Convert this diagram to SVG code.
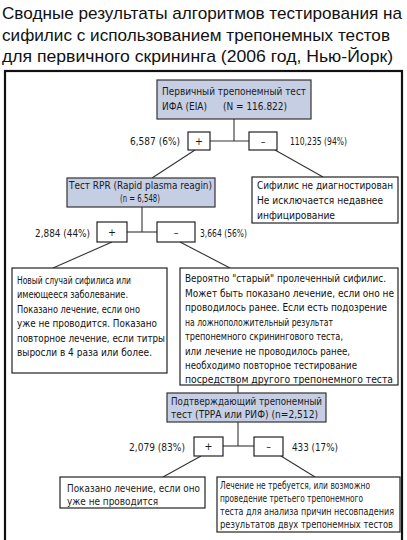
<svg xmlns="http://www.w3.org/2000/svg" width="407" height="540" viewBox="0 0 407 540">
<style>
.title{font-family:'Liberation Sans',Arial,sans-serif;font-size:17px;fill:#111}
.nt{font-family:'Liberation Sans Narrow','DejaVu Sans Condensed','Liberation Sans',sans-serif;font-size:10.5px;fill:#1a1a1a}
.bt{font-family:'DejaVu Sans Condensed','Liberation Sans Narrow','Liberation Sans',sans-serif;font-size:10.5px;fill:#111}
.box{fill:#fff;stroke:#222;stroke-width:1.2}
.blue{fill:#c6cee4;stroke:#333;stroke-width:1.2}
.ln{stroke:#333;stroke-width:1.1;fill:none}
.frame{fill:none;stroke:#111;stroke-width:2.2}
</style>
<rect width="407" height="540" fill="#fff"/>
<g id="title">
<text class="title" x="2" y="19" textLength="400" lengthAdjust="spacingAndGlyphs">Сводные результаты алгоритмов тестирования на</text>
<text class="title" x="2" y="41" textLength="388" lengthAdjust="spacingAndGlyphs">сифилис с использованием трепонемных тестов</text>
<text class="title" x="2" y="62" textLength="391" lengthAdjust="spacingAndGlyphs">для первичного скрининга (2006 год, Нью-Йорк)</text>
</g>
<rect class="frame" x="5" y="71" width="397" height="480"/>
<g id="connectors">
<line class="ln" x1="234" y1="119" x2="234" y2="141"/>
<line class="ln" x1="210" y1="141" x2="249" y2="141"/>
<line class="ln" x1="195" y1="150" x2="152" y2="178"/>
<line class="ln" x1="275" y1="150" x2="323" y2="177"/>
<line class="ln" x1="142" y1="207" x2="142" y2="232"/>
<line class="ln" x1="127" y1="232" x2="157" y2="232"/>
<line class="ln" x1="112" y1="242" x2="53" y2="268"/>
<line class="ln" x1="180" y1="242" x2="230" y2="268"/>
<line class="ln" x1="238" y1="385" x2="238" y2="393"/>
<line class="ln" x1="238" y1="422" x2="238" y2="446"/>
<line class="ln" x1="223" y1="446" x2="254" y2="446"/>
<line class="ln" x1="201" y1="456" x2="163" y2="477"/>
<line class="ln" x1="281" y1="456" x2="315" y2="477"/>
</g>
<g id="n_eia">
<rect class="blue" x="157" y="80" width="154" height="39"/>
<text class="nt" x="162" y="95" font-size="11.5" textLength="144" lengthAdjust="spacingAndGlyphs">Первичный трепонемный тест</text>
<text class="nt" x="162" y="110" font-size="11.5" textLength="45" lengthAdjust="spacingAndGlyphs">ИФА (EIA)</text>
<text class="nt" x="223" y="110" font-size="11.5" textLength="64" lengthAdjust="spacingAndGlyphs">(N = 116.822)</text>
</g>
<g id="n_plus1">
<rect class="box" x="188" y="132" width="22" height="18"/>
<text class="nt" x="199" y="145" text-anchor="middle">+</text>
<text class="nt" x="130" y="145" font-size="9.5" textLength="50" lengthAdjust="spacingAndGlyphs">6,587 (6%)</text>
</g>
<g id="n_minus1">
<rect class="box" x="249" y="132" width="28" height="18"/>
<text class="nt" x="263" y="145" text-anchor="middle">–</text>
<text class="nt" x="290" y="145" font-size="9.5" textLength="57" lengthAdjust="spacingAndGlyphs">110,235 (94%)</text>
</g>
<g id="n_rpr">
<rect class="blue" x="67" y="178" width="148" height="29"/>
<text class="nt" x="69" y="189" font-size="11" textLength="143" lengthAdjust="spacingAndGlyphs">Тест RPR (Rapid plasma reagin)</text>
<text class="nt" x="120" y="202" font-size="10.5" textLength="40" lengthAdjust="spacingAndGlyphs">(n = 6,548)</text>
</g>
<g id="n_nosyph">
<rect class="box" x="252" y="177" width="146" height="46"/>
<text class="bt" x="257" y="189" font-size="11" textLength="136" lengthAdjust="spacingAndGlyphs">Сифилис не диагностирован</text>
<text class="bt" x="257" y="204" font-size="11" textLength="126" lengthAdjust="spacingAndGlyphs">Не исключается недавнее</text>
<text class="bt" x="257" y="219" font-size="11" textLength="78" lengthAdjust="spacingAndGlyphs">инфицирование</text>
</g>
<g id="n_plus2">
<rect class="box" x="97" y="222" width="30" height="20"/>
<text class="nt" x="112" y="236" text-anchor="middle">+</text>
<text class="nt" x="35" y="237" textLength="55" lengthAdjust="spacingAndGlyphs">2,884 (44%)</text>
</g>
<g id="n_minus2">
<rect class="box" x="157" y="222" width="38" height="20"/>
<text class="nt" x="176" y="236" text-anchor="middle">–</text>
<text class="nt" x="200" y="237" textLength="47" lengthAdjust="spacingAndGlyphs">3,664 (56%)</text>
</g>
<g id="n_new">
<rect class="box" x="12" y="268" width="155" height="105"/>
<text class="bt" x="17" y="284" textLength="114" lengthAdjust="spacingAndGlyphs">Новый случай сифилиса или</text>
<text class="bt" x="17" y="298" textLength="111" lengthAdjust="spacingAndGlyphs">имеющееся заболевание.</text>
<text class="bt" x="17" y="313" textLength="123" lengthAdjust="spacingAndGlyphs">Показано лечение, если оно</text>
<text class="bt" x="17" y="327" textLength="140" lengthAdjust="spacingAndGlyphs">уже не проводится. Показано</text>
<text class="bt" x="17" y="342" textLength="148" lengthAdjust="spacingAndGlyphs">повторное лечение, если титры</text>
<text class="bt" x="17" y="356" textLength="135" lengthAdjust="spacingAndGlyphs">выросли в 4 раза или более.</text>
</g>
<g id="n_old">
<rect class="box" x="180" y="268" width="218" height="117"/>
<text class="bt" x="185" y="282" textLength="201" lengthAdjust="spacingAndGlyphs">Вероятно "старый" пролеченный сифилис.</text>
<text class="bt" x="185" y="297" textLength="209" lengthAdjust="spacingAndGlyphs">Может быть показано лечение, если оно не</text>
<text class="bt" x="185" y="311" textLength="202" lengthAdjust="spacingAndGlyphs">проводилось ранее. Если есть подозрение</text>
<text class="bt" x="185" y="326" textLength="148" lengthAdjust="spacingAndGlyphs">на ложноположительный результат</text>
<text class="bt" x="185" y="340" textLength="158" lengthAdjust="spacingAndGlyphs">трепонемного скринингового теста,</text>
<text class="bt" x="185" y="355" textLength="165" lengthAdjust="spacingAndGlyphs">или лечение не проводилось ранее,</text>
<text class="bt" x="185" y="369" textLength="172" lengthAdjust="spacingAndGlyphs">необходимо повторное тестирование</text>
<text class="bt" x="185" y="383" textLength="208" lengthAdjust="spacingAndGlyphs">посредством другого трепонемного теста</text>
</g>
<g id="n_confirm">
<rect class="blue" x="167" y="393" width="159" height="29"/>
<text class="nt" x="171" y="405" font-size="11" textLength="151" lengthAdjust="spacingAndGlyphs">Подтверждающий трепонемный</text>
<text class="nt" x="171" y="418" font-size="11" textLength="147" lengthAdjust="spacingAndGlyphs">тест (ТРРА или РИФ)  (n=2,512)</text>
</g>
<g id="n_plus3">
<rect class="box" x="194" y="437" width="29" height="19"/>
<text class="nt" x="208.5" y="450" text-anchor="middle">+</text>
<text class="nt" x="129" y="451" textLength="56" lengthAdjust="spacingAndGlyphs">2,079 (83%)</text>
</g>
<g id="n_minus3">
<rect class="box" x="254" y="437" width="29" height="19"/>
<text class="nt" x="268.5" y="450" text-anchor="middle">–</text>
<text class="nt" x="292" y="451" textLength="46" lengthAdjust="spacingAndGlyphs">433 (17%)</text>
</g>
<g id="n_treat">
<rect class="box" x="60" y="477" width="145" height="31"/>
<text class="nt" x="67" y="492" font-size="11.5" textLength="133" lengthAdjust="spacingAndGlyphs">Показано лечение, если оно</text>
<text class="nt" x="67" y="505" font-size="11.5" textLength="91" lengthAdjust="spacingAndGlyphs">уже не проводится</text>
</g>
<g id="n_notreat">
<rect class="box" x="217" y="477" width="183" height="55"/>
<text class="nt" x="220" y="489" font-size="10" textLength="150" lengthAdjust="spacingAndGlyphs">Лечение не требуется, или возможно</text>
<text class="nt" x="220" y="502" font-size="10" textLength="143" lengthAdjust="spacingAndGlyphs">проведение третьего трепонемного</text>
<text class="nt" x="220" y="515" font-size="8.6" textLength="174" lengthAdjust="spacingAndGlyphs">теста для анализа причин несовпадения</text>
<text class="nt" x="220" y="528" font-size="8.6" textLength="173" lengthAdjust="spacingAndGlyphs">результатов двух трепонемных тестов</text>
</g>
</svg>
